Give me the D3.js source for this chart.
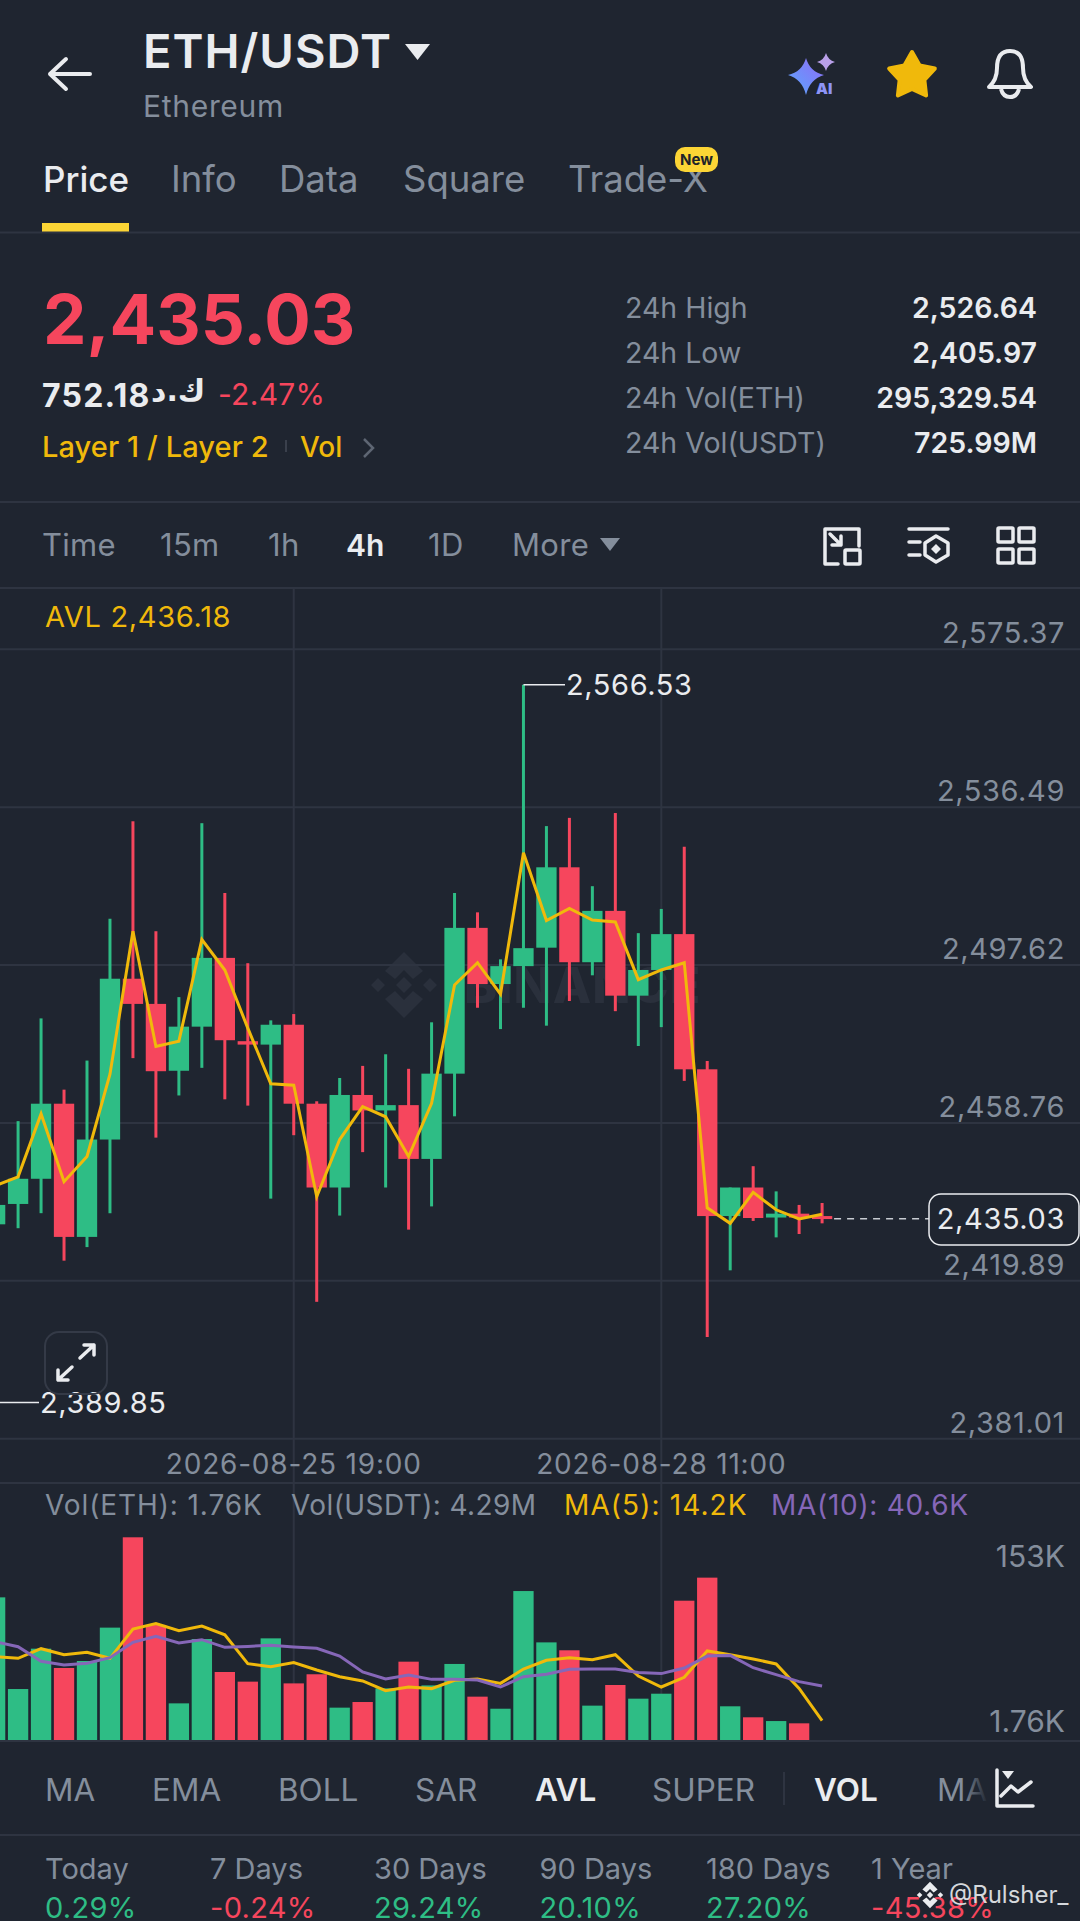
<!DOCTYPE html>
<html>
<head>
<meta charset="utf-8">
<script src="https://cdn.jsdelivr.net/npm/d3@7"></script>
<style>
  html, body { margin: 0; padding: 0; background: #1f2530; overflow: hidden; }
  text { font-family: Inter, "Noto Sans", sans-serif; }
</style>
</head>
<body>
<div id="chart"></div>
<script>
// candles: index 0 is cut off by the left edge
const candleDir = ['up','up','up','down','up','up','down','down','up','up','down','down','up','down','down','up','down','up','down','up','up','down','up','up','up','down','up','down','up','up','down','down','up','down','up','down','down'];
const candleHigh = [2445.0,2459.09,2484.38,2466.84,2474.00,2508.94,2532.91,2505.84,2489.62,2532.44,2515.26,2497.97,2483.90,2485.45,2463.98,2469.71,2472.69,2475.55,2471.97,2483.42,2515.26,2510.49,2498.92,2566.53,2531.72,2533.75,2516.93,2534.94,2505.37,2511.33,2526.64,2473.88,2442.75,2448.00,2441.80,2438.46,2438.94];
const candleTop = [2438.46,2444.90,2463.38,2463.38,2454.56,2494.15,2494.15,2487.95,2482.35,2499.28,2499.28,2478.77,2482.82,2482.82,2463.38,2465.53,2465.53,2463.03,2463.03,2470.78,2506.67,2506.67,2497.25,2501.67,2521.58,2521.58,2510.85,2510.85,2496.30,2505.13,2505.13,2471.85,2442.75,2442.75,2436.31,2436.31,2435.72];
const candleBottom = [2433.69,2438.70,2444.90,2430.59,2430.59,2454.56,2487.95,2471.38,2471.49,2482.35,2479.01,2477.93,2477.93,2463.38,2442.75,2442.75,2461.72,2461.72,2449.79,2449.79,2470.78,2492.84,2492.84,2497.25,2501.79,2498.21,2498.21,2489.98,2489.98,2496.30,2471.85,2435.72,2435.72,2435.24,2435.36,2435.36,2435.03];
const candleLow = [2428.0,2432.73,2436.43,2424.74,2428.08,2436.43,2474.60,2455.03,2465.41,2472.21,2464.46,2462.91,2440.01,2455.63,2414.61,2435.84,2451.46,2442.75,2432.38,2438.10,2460.28,2487.00,2481.75,2487.00,2482.59,2488.67,2494.99,2486.16,2477.58,2482.23,2469.0,2405.97,2422.36,2434.52,2430.47,2431.30,2433.93];
const avlLine = [2443.2,2445.37,2460.88,2444.18,2450.39,2470.66,2505.84,2477.46,2478.77,2503.81,2496.30,2481.99,2468.27,2467.92,2440.49,2454.56,2462.67,2460.16,2450.39,2463.50,2492.60,2498.09,2490.34,2525.16,2508.47,2511.45,2508.58,2508.11,2493.92,2496.30,2498.09,2437.74,2433.93,2441.56,2437.27,2435.00,2436.18];

// volume in thousands
const volValues = [108.2,39.8,69.9,55.5,60.7,85.6,153,87.6,29.1,77.1,52.5,45.3,77.6,44.0,50.8,25.9,30.1,40.3,60.2,42.5,58.5,34.1,25.1,112.9,74.6,68.7,27.4,42.8,32.6,36.3,105.7,122.9,26.9,18.7,15.9,14.2,1.76];
const ma5 = [63.9,62.7,69.9,65.4,67.2,62.7,84.6,88.6,83.3,86.8,80.3,58.7,56.5,59.5,54.0,49.0,45.8,38.6,41.3,40.1,46.3,47.3,44.0,54.7,61.2,63.2,61.7,65.4,49.5,41.3,48.5,68.2,65.4,62.2,58.5,40.3,16.2];
const ma10 = [75.1,71.4,60.5,57.7,59.0,63.2,74.6,79.1,74.1,76.6,70.9,71.6,72.4,71.2,70.2,64.4,52.5,47.3,50.3,47.0,47.0,46.5,41.3,49.0,50.8,54.5,54.7,54.7,52.2,51.3,55.5,64.4,64.9,55.7,50.5,45.3,42.0];

const priceTicks = [2575.37,2536.49,2497.62,2458.76,2419.89,2381.01];
const timeTicks = [13, 29];
const timeLabels = ['2026-08-25 19:00','2026-08-28 11:00'];
const volTicks = [153, 1.76];
const lastPrice = 2435.03, highPrice = 2566.53, lowPrice = 2389.85;

const tabs = ['Price','Info','Data','Square','Trade-X'];
const stats = [['24h High','2,526.64'],['24h Low','2,405.97'],['24h Vol(ETH)','295,329.54'],['24h Vol(USDT)','725.99M']];
const frames = ['Time','15m','1h','4h','1D','More'];
const indicators = ['MA','EMA','BOLL','SAR','AVL','SUPER','VOL','MACD'];
const periods = ['Today','7 Days','30 Days','90 Days','180 Days','1 Year'];
const periodValues = ['0.29%','-0.24%','29.24%','20.10%','27.20%','-45.38%'];

const col = {bg:'#1f2530', grid:'#2e3441', grey:'#848e9c', white:'#eaecef', up:'#2ebd85', down:'#f6465d', yellow:'#f0b90b', purple:'#8667b8', accent:'#fcd535'};

const svg = d3.select('#chart').append('svg').attr('width', 1080).attr('height', 1921).style('display','block');
svg.append('rect').attr('width', 1080).attr('height', 1921).attr('fill', col.bg);

const label = (x, y, str, o = {}) => svg.append('text')
  .attr('x', x).attr('y', y).text(str)
  .attr('fill', o.fill || col.grey)
  .attr('font-size', o.size || 29)
  .attr('font-weight', o.weight || 400)
  .attr('text-anchor', o.anchor || 'start')
  .style('font-family', o.font || null)
  .style('letter-spacing', o.spacing || null);

const hline = y => svg.append('line').attr('x1', 0).attr('x2', 1080).attr('y1', y).attr('y2', y).attr('stroke', col.grid).attr('stroke-width', 2);

// scales
const x = d3.scaleBand().domain(d3.range(candleHigh.length)).range([-15.05, 832.25]).paddingInner(0.115);
const cx = i => x(i) + x.bandwidth() / 2;
const y = d3.scaleLinear().domain([2381.01, 2575.37]).range([1438.3, 648.8]);
const yVol = d3.scaleLinear().domain([1.76, 153]).range([1740, 1537.3]);

// binance mark, drawn around 0,0 with radius 33
const logoPath = 'M0 -33 L19 -14 L9 -6 L0 -15 L-9 -6 L-19 -14 Z M0 33 L-19 14 L-9 6 L0 15 L9 6 L19 14 Z M0 -8 L8 0 L0 8 L-8 0 Z M-26 -7 L-19 0 L-26 7 L-33 0 Z M26 -7 L33 0 L26 7 L19 0 Z';

// ---- header
svg.append('path').attr('d', 'M66 59 L50 74 L66 89 M50 74 H90').attr('fill','none').attr('stroke', col.white).attr('stroke-width', 4).attr('stroke-linecap','round').attr('stroke-linejoin','round');
label(143, 68, 'ETH/USDT', {size: 47, weight: 600, fill: col.white, spacing: '1px'});
svg.append('path').attr('d', 'M405 44 H430 L417.5 60 Z').attr('fill', col.white);
label(143, 117, 'Ethereum', {size: 30, spacing: '0.7px'});

const tabX = [43, 171, 279, 403, 568];
tabs.forEach((t, i) => label(tabX[i], 192, t, {size: i === 0 ? 35 : 36.5, fill: i === 0 ? col.white : col.grey, weight: i === 0 ? 500 : 400}));
svg.append('rect').attr('x', 675).attr('y', 147).attr('width', 43).attr('height', 25).attr('rx', 10).attr('fill', col.accent);
label(696.5, 165, 'New', {size: 15, fill: '#1e2329', anchor: 'middle', weight: 700});
svg.append('rect').attr('x', 42).attr('y', 223).attr('width', 87).attr('height', 9).attr('fill', col.accent);
hline(232.5);

// icons top right
const defs = svg.append('defs');
const sg = defs.append('linearGradient').attr('id','aiGrad').attr('x1',0).attr('y1',1).attr('x2',1).attr('y2',0);
sg.append('stop').attr('offset',0).attr('stop-color','#5aa8ff');
sg.append('stop').attr('offset',1).attr('stop-color','#8f6bf5');
svg.append('path').attr('d','M806 58 Q810 72 824 75 Q810 79 806 95 Q802 79 788 75 Q802 72 806 58 Z').attr('fill','url(#aiGrad)');
svg.append('path').attr('d','M826 53 Q828 60 835 62 Q828 64 826 71 Q824 64 817 62 Q824 60 826 53 Z').attr('fill','#b9a0e8');
label(816, 94, 'AI', {size: 15, weight: 900, fill: '#8d94f5'});
const star = d3.range(10).map(k => {
  const r = k % 2 ? 13 : 24, a = -Math.PI / 2 + k * Math.PI / 5;
  return [912 + r * Math.cos(a), 76 + r * Math.sin(a)];
});
svg.append('path').attr('d', d3.line().curve(d3.curveLinearClosed)(star)).attr('fill', col.yellow).attr('stroke', col.yellow).attr('stroke-width', 4).attr('stroke-linejoin','round');
svg.append('path').attr('d','M989 87 Q997 80 997 68 Q997 51 1010 51 Q1023 51 1023 68 Q1023 80 1031 87 Z M1001 89 Q1003 97 1010 97 Q1017 97 1019 89').attr('fill','none').attr('stroke', col.white).attr('stroke-width', 4).attr('stroke-linejoin','round');

// ---- price block
label(43, 344, '2,435.03', {size: 69, weight: 700, fill: col.down});
label(42, 407, '752.18', {size: 32, weight: 700, fill: col.white, spacing: '1.2px'});
label(151, 401, 'ك.د', {size: 30, weight: 700, fill: col.white, font: '"DejaVu Sans"', spacing: '-2px'});
label(218, 405, '-2.47%', {size: 30, fill: col.down, spacing: '0.3px'});
label(42, 457, 'Layer 1 / Layer 2', {size: 29, weight: 500, fill: col.yellow, spacing: '0.1px'});
svg.append('line').attr('x1', 286).attr('x2', 286).attr('y1', 440).attr('y2', 452).attr('stroke', '#3a404c').attr('stroke-width', 2);
label(300, 457, 'Vol', {size: 28, weight: 500, fill: col.yellow});
svg.append('path').attr('d','M364 439 L373 448 L364 457').attr('fill','none').attr('stroke','#5e6673').attr('stroke-width',2.5);

const statY = [318, 363, 408, 453];
stats.forEach((s, i) => {
  label(625, statY[i], s[0], {size: 28.5});
  label(1037, statY[i], s[1], {size: 28.5, weight: 600, fill: col.white, anchor: 'end'});
});
hline(502);

// ---- time frames
const frameX = [42, 160, 268, 346, 428, 512];
frames.forEach((t, i) => label(frameX[i], 556, t, {size: i === 3 ? 30 : 31, spacing: i === 3 ? null : '0.3px', weight: i === 3 ? 600 : 400, fill: i === 3 ? col.white : col.grey}));
svg.append('path').attr('d','M600 538 H620 L610 551 Z').attr('fill', col.grey);
const icon = d => svg.append('path').attr('d', d).attr('fill','none').attr('stroke', col.white).attr('stroke-width', 3.5).attr('stroke-linejoin','round').attr('stroke-linecap','round');
icon('M838 564 H825 V529 H859 V546 M830 534 L841 545 M841 536 V545 H832');
svg.append('rect').attr('x', 845).attr('y', 550).attr('width', 15).attr('height', 14).attr('rx', 1).attr('fill','none').attr('stroke', col.white).attr('stroke-width', 3.5);
icon('M909 529 H948 M909 542 H920 M909 555 H920');
icon('M936 536 L948 543 V555 L936 562 L925 555 V543 Z');
svg.append('path').attr('d','M936 544 L941 549 L936 554 L931 549 Z').attr('fill', col.white);
[[998,528],[1019,528],[998,549],[1019,549]].forEach(p => svg.append('rect').attr('x', p[0]).attr('y', p[1]).attr('width', 15).attr('height', 14).attr('rx', 1).attr('fill','none').attr('stroke', col.white).attr('stroke-width', 3.5));
hline(588);

// ---- watermark
svg.append('path').attr('d', logoPath).attr('transform','translate(404,985)').attr('fill','#2a303c');
label(464, 1003, 'BINANCE', {size: 50, weight: 800, fill: '#2a303c', spacing: '1px'});

// ---- price pane grid + axis
const axisFont = {size: 29, spacing: '0.6px'};
const yAxis = d3.axisRight(y).tickValues(priceTicks).tickSize(1080).tickFormat(d3.format(',.2f'));
const yg = svg.append('g').call(yAxis);
yg.select('.domain').remove();
yg.selectAll('line').attr('stroke', col.grid).attr('stroke-width', 2);
yg.selectAll('text').attr('x', 1065).attr('dy', -6).attr('text-anchor','end').attr('fill', col.grey).style('font-size', axisFont.size + 'px').style('letter-spacing', axisFont.spacing).style('font-family','Inter, sans-serif');

timeTicks.forEach(i => svg.append('line').attr('x1', cx(i)).attr('x2', cx(i)).attr('y1', 588).attr('y2', 1740).attr('stroke', col.grid).attr('stroke-width', 2));

// candles
const candles = svg.append('g');
candles.selectAll('.wick').data(candleHigh).join('line').attr('class','wick')
  .attr('x1', (d, i) => cx(i)).attr('x2', (d, i) => cx(i))
  .attr('y1', d => y(d)).attr('y2', (d, i) => y(candleLow[i]))
  .attr('stroke', (d, i) => candleDir[i] === 'up' ? col.up : col.down)
  .attr('stroke-width', 3);
candles.selectAll('.body').data(candleTop).join('rect').attr('class','body')
  .attr('x', (d, i) => x(i)).attr('width', x.bandwidth())
  .attr('y', d => y(d)).attr('height', (d, i) => Math.max(3, y(candleBottom[i]) - y(d)))
  .attr('fill', (d, i) => candleDir[i] === 'up' ? col.up : col.down);

const priceLine = d3.line().x((d, i) => cx(i)).y(d => y(d));
svg.append('path').attr('d', priceLine(avlLine)).attr('fill','none').attr('stroke', col.yellow).attr('stroke-width', 3);

label(45, 627, 'AVL 2,436.18', {size: 29, spacing: '0.7px', fill: col.yellow});

// high / low markers
const lineH = (x1, x2, yy, o = {}) => svg.append('line').attr('x1', x1).attr('x2', x2).attr('y1', yy).attr('y2', yy).attr('stroke', o.stroke || col.white).attr('stroke-width', o.w || 1.5).attr('stroke-dasharray', o.dash || null);
lineH(cx(23), 565, y(highPrice));
label(566, y(highPrice) + 10, d3.format(',.2f')(highPrice), {...axisFont, fill: col.white});
lineH(0, 39, y(lowPrice));
label(40, y(lowPrice) + 11, d3.format(',.2f')(lowPrice), {...axisFont, fill: col.white});

// last price tag
lineH(cx(36) + 12, 929, y(lastPrice), {dash: '7 6', stroke: '#c8ccd2'});
svg.append('rect').attr('x', 929).attr('y', 1194).attr('width', 150).attr('height', 51).attr('rx', 12).attr('fill', col.bg).attr('stroke', col.white).attr('stroke-width', 1.5);
label(1065, y(lastPrice) + 10, d3.format(',.2f')(lastPrice), {...axisFont, fill: col.white, anchor: 'end'});

// expand button
svg.append('rect').attr('x', 45).attr('y', 1332).attr('width', 62).attr('height', 62).attr('rx', 14).attr('fill','none').attr('stroke','#343a47').attr('stroke-width', 2);
icon('M80 1358 L94 1345 M84 1345 H94 V1355 M72 1367 L58 1380 M58 1370 V1380 H68');

// ---- time axis
const xAxis = d3.axisBottom(x).tickValues(timeTicks).tickSize(0).tickFormat((d, i) => timeLabels[i]);
const xg = svg.append('g').attr('transform', 'translate(0,1451)').call(xAxis);
xg.select('.domain').remove();
xg.selectAll('text').attr('fill', col.grey).style('font-size','28px').style('font-family','Inter, sans-serif').style('letter-spacing','0.8px');
hline(1483);

// ---- volume pane
label(45, 1515, 'Vol(ETH): 1.76K', {size: 28, spacing: '0.9px'});
label(291, 1515, 'Vol(USDT): 4.29M', {size: 28, spacing: '0.4px'});
label(564, 1515, 'MA(5): 14.2K', {size: 28, spacing: '1.1px', fill: col.yellow});
label(771, 1515, 'MA(10): 40.6K', {size: 28, spacing: '0.7px', fill: col.purple});

svg.append('g').selectAll('rect').data(volValues).join('rect')
  .attr('x', (d, i) => x(i)).attr('width', x.bandwidth())
  .attr('y', d => yVol(d)).attr('height', d => 1740 - yVol(d))
  .attr('fill', (d, i) => candleDir[i] === 'up' ? col.up : col.down);

const volLine = d3.line().x((d, i) => cx(i)).y(d => yVol(d));
svg.append('path').attr('d', volLine(ma5)).attr('fill','none').attr('stroke', col.yellow).attr('stroke-width', 3);
svg.append('path').attr('d', volLine(ma10)).attr('fill','none').attr('stroke', col.purple).attr('stroke-width', 3);

label(1065, 1567, volTicks[0] + 'K', {size: 30, anchor: 'end'});
label(1065, 1732, volTicks[1] + 'K', {size: 30, anchor: 'end'});
hline(1741);

// ---- indicator row
const indX = [45, 152, 278, 415, 535, 652, 814, 937];
indicators.forEach((t, i) => label(indX[i], 1801, t, {size: 31.5, weight: (t === 'AVL' || t === 'VOL') ? 600 : 400, fill: (t === 'AVL' || t === 'VOL') ? col.white : col.grey}));
svg.append('line').attr('x1', 784).attr('x2', 784).attr('y1', 1772).attr('y2', 1805).attr('stroke', col.grid).attr('stroke-width', 2);
const fade = defs.append('linearGradient').attr('id','fade');
fade.append('stop').attr('offset',0).attr('stop-color', col.bg).attr('stop-opacity',0);
fade.append('stop').attr('offset',1).attr('stop-color', col.bg).attr('stop-opacity',1);
svg.append('rect').attr('x', 962).attr('y', 1765).attr('width', 26).attr('height', 45).attr('fill','url(#fade)');
svg.append('rect').attr('x', 988).attr('y', 1765).attr('width', 92).attr('height', 45).attr('fill', col.bg);
icon('M997 1770 V1806 H1033 M1001 1796 L1011 1786 L1018 1792 L1031 1782');
svg.append('path').attr('d','M1002 1771 H1014 L1008 1779 Z').attr('fill', col.white);
hline(1835);

// ---- period row
const periodX = [45, 210, 374, 539.5, 706, 871];
periods.forEach((t, i) => label(periodX[i], 1879, t, {size: 29}));
periodValues.forEach((t, i) => label(periodX[i], 1918, t, {size: 29, spacing: '0.3px', fill: t[0] === '-' ? col.down : col.up}));

// footer watermark
svg.append('path').attr('d', logoPath).attr('transform','translate(930,1895) scale(0.4)').attr('fill', col.white);
label(949, 1903, '@Rulsher_', {size: 24, fill: '#d5d8dc'});
</script>
</body>
</html>
